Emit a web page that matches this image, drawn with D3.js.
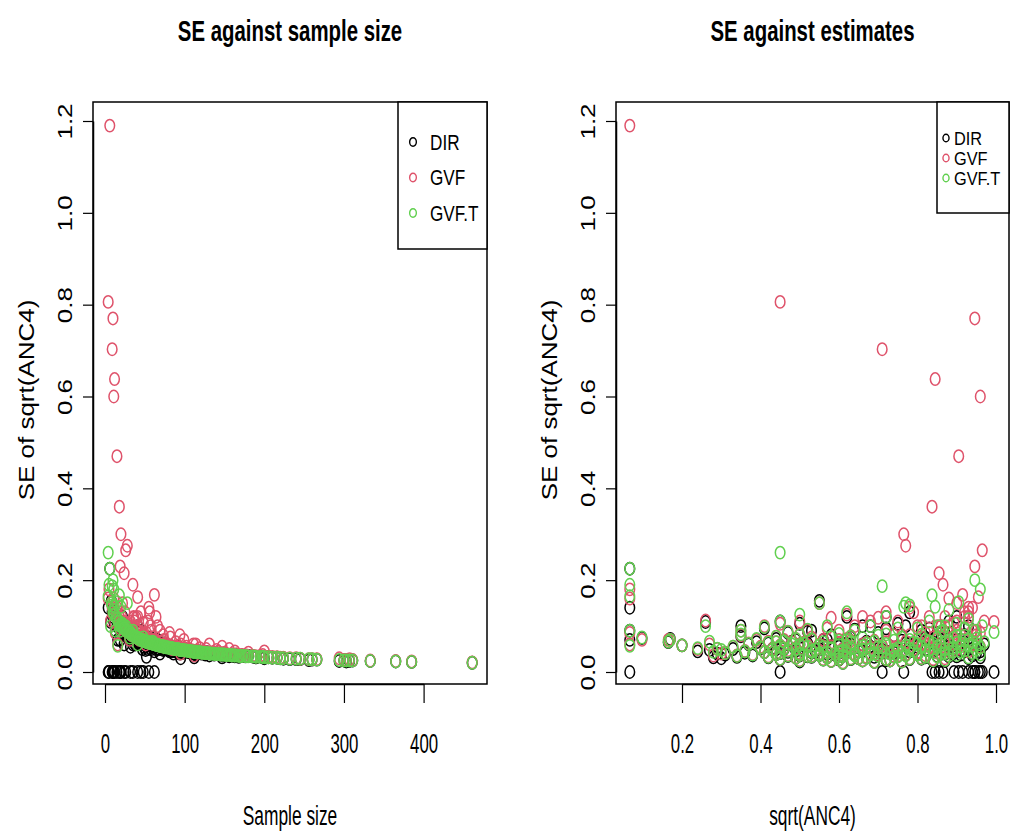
<!DOCTYPE html>
<html>
<head>
<meta charset="utf-8">
<script src="https://cdn.jsdelivr.net/npm/d3@7"></script>
<style>
  body { margin: 0; background: #fff; }
  svg { display: block; font-family: "Liberation Sans", Arial, sans-serif; }
</style>
</head>
<body>
<div id="chart"></div>
<script>
// -DATA- one entry per area
// sample size of each area
const sampleSize = [
  4, 5, 9, 20, 18, 12, 24, 35, 15, 10, 11, 26, 19, 48, 45, 55, 32, 41, 62,
  6, 4, 7, 8, 9, 10, 11, 12, 13, 14, 15,
  16, 17, 18, 19, 20, 21, 22, 23, 25, 26, 27, 28, 29, 30,
  31, 32, 33, 34, 35, 36, 37, 38, 39, 40, 41, 42, 43, 44, 45, 46, 47, 48, 49, 50,
  51, 52, 53, 54, 55, 56, 57, 58, 59, 60,
  61, 62, 63, 64, 65, 66, 67, 68, 69, 70, 72, 73, 74, 75, 77, 78, 80, 81, 83, 84,
  86, 87, 89, 90, 92, 93, 95, 96, 98, 99, 100,
  103, 105, 107, 109, 111, 113, 115, 117, 119, 121, 124, 126, 128, 131, 133, 135, 138, 140, 143, 145, 148, 150,
  153, 156, 159, 162, 165, 168, 172, 176, 180, 185, 190, 195, 200, 205, 210, 216,
  224, 232, 245, 256, 266, 294, 303, 311, 333, 365, 385, 461,
  22, 24, 27, 33, 36, 38, 41, 43, 46, 49, 52, 54, 57, 59, 63, 66, 69, 71, 74, 76,
  79, 82, 85, 88, 91, 94, 97, 102, 106, 110, 114, 118, 122, 127, 132, 137, 142, 147, 152, 158,
  163, 170, 178, 187, 198, 220, 240, 260, 300, 307, 60, 84, 95, 112
];
// estimate sqrt(ANC4)
const estimate = [
  0.45, 0.067, 0.71, 0.765, 0.837, 0.845, 0.855, 0.865, 0.905, 0.946, 0.96, 0.965, 0.946, 0.893, 0.93, 0.94, 0.995, 0.955, 0.915,
  0.067, 0.067, 0.26, 0.55, 0.78, 0.62, 0.88, 0.5, 0.067, 0.72, 0.93,
  0.067, 0.45, 0.83, 0.57, 0.68, 0.87, 0.41, 0.75, 0.92, 0.52, 0.64, 0.77, 0.86, 0.47,
  0.098, 0.6, 0.35, 0.81, 0.5, 0.7, 0.9, 0.44, 0.58, 0.76, 0.66, 0.95, 0.39, 0.53, 0.82, 0.17, 0.62, 0.74, 0.88, 0.46,
  0.27, 0.69, 0.56, 0.97, 0.42, 0.79, 0.63, 0.9, 0.51, 0.84,
  0.37, 0.72, 0.48, 0.93, 0.6, 0.86, 0.2, 0.55, 0.77, 0.45, 0.66, 0.91, 0.33, 0.52, 0.81, 0.7, 0.4, 0.96, 0.58, 0.75,
  0.29, 0.63, 0.87, 0.49, 0.68, 0.54, 0.82, 0.43, 0.74, 0.92, 0.61,
  0.47, 0.79, 0.36, 0.65, 0.89, 0.53, 0.71, 0.41, 0.84, 0.57, 0.76, 0.31, 0.62, 0.94, 0.5, 0.73, 0.44, 0.86, 0.59, 0.68, 0.38, 0.8,
  0.55, 0.9, 0.64, 0.47, 0.77, 0.34, 0.7, 0.52, 0.85, 0.6, 0.42, 0.74, 0.93, 0.57, 0.67, 0.49,
  0.81, 0.63, 0.45, 0.72, 0.56, 0.87, 0.5, 0.66, 0.58, 0.76, 0.69, 0.61,
  0.9, 0.8, 0.35, 0.72, 0.92, 0.63, 0.85, 0.49, 0.78, 0.6, 0.83, 0.44, 0.88, 0.67, 0.8, 0.5, 0.94, 0.62, 0.85, 0.56,
  0.71, 0.89, 0.46, 0.78, 0.58, 0.95, 0.66, 0.83, 0.53, 0.74, 0.91, 0.6, 0.45, 0.87, 0.69, 0.55, 0.8, 0.96, 0.64, 0.5,
  0.88, 0.61, 0.75, 0.53, 0.82, 0.65, 0.78, 0.6, 0.73, 0.84, 0.165, 0.24, 0.3, 0.28
];
// SE of the direct estimate
const seDIR = [
  0, 0, 0, 0, 0, 0, 0, 0, 0, 0, 0, 0, 0, 0, 0, 0, 0, 0, 0,
  0.225, 0.14, 0.109, 0.155, 0.13, 0.12, 0.11, 0.105, 0.09, 0.12, 0.1,
  0.07, 0.11, 0.095, 0.07, 0.1, 0.085, 0.095, 0.105, 0.08, 0.088, 0.092, 0.1, 0.075, 0.085,
  0.074, 0.055, 0.078, 0.09, 0.06, 0.085, 0.07, 0.072, 0.08, 0.068, 0.1, 0.06, 0.065, 0.09, 0.075, 0.072, 0.05, 0.08, 0.055, 0.068,
  0.048, 0.033, 0.07, 0.06, 0.062, 0.06, 0.075, 0.05, 0.058, 0.064,
  0.06, 0.045, 0.066, 0.05, 0.057, 0.07, 0.058, 0.05, 0.063, 0.055, 0.06, 0.048, 0.05, 0.062, 0.055, 0.05, 0.052, 0.045, 0.056, 0.047,
  0.04, 0.052, 0.05, 0.047, 0.055, 0.044, 0.049, 0.05, 0.042, 0.046, 0.05,
  0.044, 0.048, 0.042, 0.045, 0.04, 0.046, 0.042, 0.043, 0.045, 0.04, 0.044, 0.038, 0.043, 0.036, 0.04, 0.041, 0.039, 0.04, 0.038, 0.04, 0.036, 0.039,
  0.037, 0.034, 0.038, 0.035, 0.037, 0.033, 0.036, 0.034, 0.035, 0.034, 0.032, 0.034, 0.03, 0.032, 0.031, 0.031,
  0.029, 0.028, 0.028, 0.026, 0.027, 0.024, 0.023, 0.025, 0.024, 0.023, 0.022, 0.02,
  0.12, 0.06, 0.1, 0.095, 0.065, 0.06, 0.085, 0.07, 0.062, 0.06, 0.07, 0.05, 0.072, 0.066, 0.055, 0.052, 0.04, 0.062, 0.05, 0.058,
  0.048, 0.052, 0.05, 0.045, 0.052, 0.04, 0.046, 0.047, 0.043, 0.045, 0.038, 0.042, 0.041, 0.04, 0.041, 0.038, 0.04, 0.032, 0.037, 0.036,
  0.034, 0.035, 0.035, 0.033, 0.032, 0.03, 0.028, 0.027, 0.025, 0.024, 0.065, 0.045, 0.03, 0.032
];
// SE from the GVF model
const seGVF = [
  0.806, 0.18, 0.703, 0.3, 0.36, 0.638, 0.215, 0.19, 0.47, 0.77, 0.6, 0.265, 0.23, 0.107, 0.13, 0.14, 0.109, 0.163, 0.168,
  1.19, 0.16, 0.112, 0.15, 0.14, 0.125, 0.16, 0.11, 0.085, 0.13, 0.14,
  0.06, 0.105, 0.12, 0.095, 0.11, 0.12, 0.1, 0.11, 0.13, 0.09, 0.1, 0.275, 0.1, 0.088,
  0.07, 0.09, 0.08, 0.1, 0.082, 0.118, 0.11, 0.077, 0.118, 0.08, 0.12, 0.09, 0.07, 0.075, 0.085, 0.07, 0.072, 0.08, 0.085, 0.07,
  0.06, 0.068, 0.07, 0.11, 0.066, 0.13, 0.068, 0.09, 0.064, 0.075,
  0.062, 0.065, 0.065, 0.12, 0.063, 0.1, 0.058, 0.06, 0.066, 0.058, 0.06, 0.08, 0.055, 0.058, 0.062, 0.058, 0.055, 0.085, 0.056, 0.055,
  0.05, 0.054, 0.065, 0.052, 0.053, 0.05, 0.06, 0.05, 0.052, 0.07, 0.05,
  0.048, 0.05, 0.046, 0.047, 0.06, 0.046, 0.046, 0.044, 0.052, 0.044, 0.045, 0.042, 0.043, 0.06, 0.042, 0.043, 0.04, 0.048, 0.04, 0.041, 0.039, 0.042,
  0.039, 0.05, 0.038, 0.037, 0.039, 0.036, 0.037, 0.036, 0.042, 0.035, 0.034, 0.035, 0.045, 0.033, 0.033, 0.032,
  0.031, 0.03, 0.029, 0.028, 0.028, 0.03, 0.026, 0.026, 0.025, 0.024, 0.023, 0.021,
  0.15, 0.1, 0.09, 0.09, 0.12, 0.078, 0.1, 0.072, 0.08, 0.07, 0.085, 0.065, 0.1, 0.064, 0.07, 0.06, 0.09, 0.058, 0.07, 0.056,
  0.058, 0.075, 0.052, 0.055, 0.052, 0.08, 0.05, 0.055, 0.047, 0.047, 0.06, 0.044, 0.043, 0.05, 0.042, 0.041, 0.044, 0.055, 0.039, 0.038,
  0.045, 0.036, 0.036, 0.035, 0.037, 0.031, 0.03, 0.028, 0.026, 0.028, 0.07, 0.05, 0.04, 0.036
];
// SE from the transformed GVF model
const seGVFT = [
  0.26, 0.19, 0.187, 0.142, 0.167, 0.142, 0.1, 0.09, 0.152, 0.2, 0.18, 0.1, 0.09, 0.075, 0.07, 0.065, 0.087, 0.06, 0.062,
  0.225, 0.165, 0.1, 0.15, 0.145, 0.13, 0.135, 0.125, 0.09, 0.12, 0.115,
  0.057, 0.11, 0.11, 0.1, 0.1, 0.1, 0.098, 0.095, 0.095, 0.092, 0.09, 0.15, 0.088, 0.087,
  0.075, 0.083, 0.082, 0.081, 0.08, 0.079, 0.078, 0.077, 0.076, 0.075, 0.074, 0.073, 0.072, 0.071, 0.07, 0.07, 0.069, 0.068, 0.068, 0.067,
  0.066, 0.066, 0.065, 0.065, 0.064, 0.064, 0.063, 0.063, 0.062, 0.062,
  0.061, 0.061, 0.06, 0.06, 0.059, 0.059, 0.058, 0.058, 0.057, 0.057, 0.056, 0.056, 0.055, 0.055, 0.054, 0.054, 0.053, 0.053, 0.052, 0.052,
  0.051, 0.051, 0.05, 0.05, 0.049, 0.049, 0.048, 0.048, 0.048, 0.047, 0.047,
  0.046, 0.046, 0.045, 0.045, 0.044, 0.044, 0.043, 0.043, 0.043, 0.042, 0.042, 0.041, 0.041, 0.041, 0.04, 0.04, 0.039, 0.039, 0.039, 0.038, 0.038, 0.038,
  0.037, 0.037, 0.036, 0.036, 0.036, 0.035, 0.035, 0.035, 0.034, 0.034, 0.033, 0.033, 0.032, 0.032, 0.031, 0.031,
  0.03, 0.029, 0.029, 0.028, 0.027, 0.026, 0.025, 0.025, 0.024, 0.023, 0.022, 0.02,
  0.105, 0.095, 0.09, 0.082, 0.079, 0.077, 0.074, 0.072, 0.07, 0.068, 0.066, 0.065, 0.063, 0.062, 0.06, 0.059, 0.057, 0.056, 0.055, 0.054,
  0.053, 0.052, 0.051, 0.05, 0.05, 0.048, 0.048, 0.047, 0.046, 0.045, 0.044, 0.043, 0.042, 0.041, 0.04, 0.04, 0.039, 0.038, 0.037, 0.037,
  0.036, 0.035, 0.034, 0.034, 0.033, 0.03, 0.029, 0.028, 0.025, 0.025, 0.066, 0.052, 0.048, 0.044
];

const seriesNames = ["DIR", "GVF", "GVF.T"];
const seriesColors = ["#000000", "#DF536B", "#61D04F"];
const seriesValues = [seDIR, seGVF, seGVFT];

const xTicksLeft = [0, 100, 200, 300, 400];
const xTicksRight = [0.2, 0.4, 0.6, 0.8, 1.0];
const yTicks = [0, 0.2, 0.4, 0.6, 0.8, 1.0, 1.2];

// -SIZES-
const W = 1017, H = 832;
const sx = 0.6;   // horizontal squeeze of the text

const svg = d3.select("#chart").append("svg")
  .attr("width", W).attr("height", H);

// one panel of the figure
function panel(opt) {
  const g = svg.append("g");
  const x = d3.scaleLinear().domain(opt.xDomain).range(opt.xRange);
  const y = d3.scaleLinear().domain([0, 1.2]).range([672, 121]);

  // points: DIR first, then GVF, then GVF.T on top
  seriesValues.forEach((vals, s) => {
    g.append("g").selectAll("ellipse")
      .data(vals)
      .enter()
      .append("ellipse")
      .attr("cx", (d, i) => x(opt.xVals[i]))
      .attr("cy", d => y(d))
      .attr("rx", 4.8)
      .attr("ry", 6.2)
      .attr("fill", "none")
      .attr("stroke", seriesColors[s])
      .attr("stroke-width", 1.5);
  });

  // box
  g.append("rect")
    .attr("x", opt.box[0]).attr("y", 102)
    .attr("width", opt.box[1] - opt.box[0]).attr("height", 684 - 102)
    .attr("fill", "none").attr("stroke", "#000").attr("stroke-width", 1.5);

  // x axis
  const xa = g.append("g")
    .attr("transform", "translate(0,684)")
    .call(d3.axisBottom(x).tickValues(opt.xTicks).tickSize(19).tickSizeOuter(0)
      .tickFormat(opt.xFmt));
  xa.select(".domain").attr("stroke-width", 1.5);
  xa.selectAll(".tick line").attr("stroke-width", 1.2);
  xa.selectAll("text")
    .attr("y", 0).attr("dy", "0.35em")
    .attr("transform", "translate(0,59) scale(" + sx + ",1)")
    .attr("font-size", 28).attr("fill", "#000");

  // y axis
  const ya = g.append("g")
    .attr("transform", "translate(" + opt.box[0] + ",0)")
    .call(d3.axisLeft(y).tickValues(yTicks).tickSize(10).tickSizeOuter(0)
      .tickFormat(d3.format(".1f")));
  ya.select(".domain").attr("stroke-width", 1.5);
  ya.selectAll(".tick line").attr("stroke-width", 1.2);
  ya.selectAll("text")
    .attr("x", 0).attr("y", 0).attr("dy", "0.35em")
    .attr("text-anchor", "middle")
    .attr("transform", "translate(-28,0) scale(0.8,1) rotate(-90)")
    .attr("font-size", 26).attr("fill", "#000");

  // titles
  const cx = (opt.box[0] + opt.box[1]) / 2;
  g.append("text")
    .attr("transform", "translate(" + cx + ",41) scale(0.68,1)")
    .attr("text-anchor", "middle")
    .attr("font-weight", "bold").attr("font-size", 30)
    .text(opt.title);
  g.append("text")
    .attr("transform", "translate(" + cx + ",825) scale(0.62,1)")
    .attr("text-anchor", "middle")
    .attr("font-size", 28)
    .text(opt.xLabel);
  g.append("text")
    .attr("transform", "translate(" + (opt.box[0] - 67) + ",400) scale(0.85,1) rotate(-90)")
    .attr("text-anchor", "middle").attr("dy", "0.35em")
    .attr("font-size", 26)
    .text("SE of sqrt(ANC4)");

  // legend
  const L = opt.legend;
  g.append("rect")
    .attr("x", L.x).attr("y", 102)
    .attr("width", opt.box[1] - L.x).attr("height", L.bottom - 102)
    .attr("fill", "#fff").attr("stroke", "#000").attr("stroke-width", 1.5);
  const items = g.append("g").selectAll("g")
    .data(seriesNames)
    .enter()
    .append("g")
    .attr("transform", (d, i) => "translate(0," + (L.y0 + i * L.step) + ")");
  items.append("ellipse")
    .attr("cx", L.cx).attr("cy", 0)
    .attr("rx", L.r * 0.8).attr("ry", L.r)
    .attr("fill", "none")
    .attr("stroke", (d, i) => seriesColors[i])
    .attr("stroke-width", 1.4);
  items.append("text")
    .attr("transform", "translate(" + L.tx + ",0) scale(" + L.sx + ",1)")
    .attr("dy", "0.36em")
    .attr("font-size", L.fs)
    .text(d => d);
}

panel({
  xDomain: [0, 400], xRange: [105, 423.6], xVals: sampleSize,
  xTicks: xTicksLeft, xFmt: d3.format("d"),
  box: [93, 487],
  title: "SE against sample size", xLabel: "Sample size",
  legend: { x: 398, bottom: 249, y0: 142, step: 35.5, cx: 413, r: 4.2, tx: 430, fs: 22, sx: 0.78 }
});

panel({
  xDomain: [0.2, 1.0], xRange: [682, 996], xVals: estimate,
  xTicks: xTicksRight, xFmt: d3.format(".1f"),
  box: [616, 1009],
  title: "SE against estimates", xLabel: "sqrt(ANC4)",
  legend: { x: 937, bottom: 213, y0: 138, step: 20, cx: 946, r: 3.8, tx: 954, fs: 19, sx: 0.86 }
});
</script>
</body>
</html>
